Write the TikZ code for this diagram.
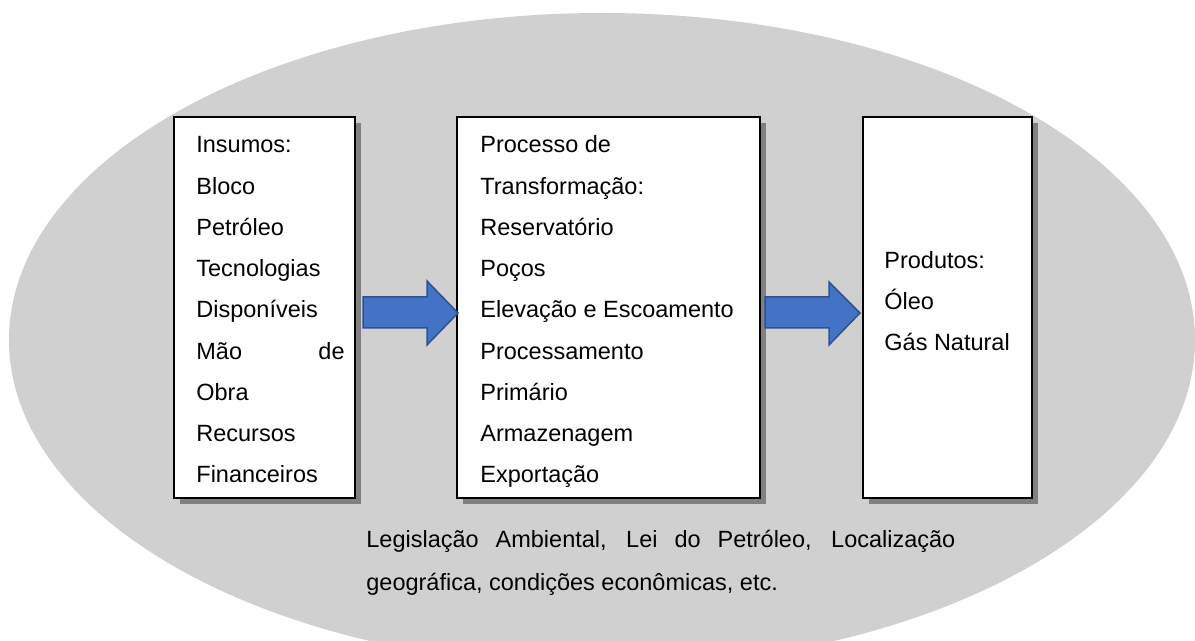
\documentclass[tikz,border=0pt]{standalone}
\usepackage{fontspec}
\setmainfont{Liberation Sans}
\usetikzlibrary{shadows}
\definecolor{ellgray}{HTML}{D0D0D0}
\definecolor{shadowgray}{HTML}{808080}
\definecolor{arrowfill}{HTML}{4472C4}
\definecolor{arrowline}{HTML}{2F528F}
\begin{document}
\begin{tikzpicture}[x=0.5pt,y=-0.5pt,
  box/.style={draw=black, line width=1pt, fill=white, minimum height=190.5pt, inner sep=0pt,
    drop shadow={shadow xshift=3pt, shadow yshift=-3pt, fill=shadowgray, opacity=1}},
  txt/.style={inner sep=0pt, font=\fontsize{11.75}{14}\selectfont},
  blockarrow/.style={fill=arrowfill, draw=arrowline, line width=0.75pt, line join=miter}]
\useasboundingbox (0,0) rectangle (1195,641);
% background ellipse
\fill[ellgray] (602,340) ellipse [x radius=593, y radius=327];
% boxes
\node[box, minimum width=90.5pt] (b1) at (264.5,307.5) {};
\node[box, minimum width=151.5pt] (b2) at (608.5,307.5) {};
\node[box, minimum width=84.5pt] (b3) at (947.5,307.5) {};
% block arrows
\draw[blockarrow] (363,297) -- (427,297) -- (427,281) -- (458,313) -- (427,345) -- (427,328) -- (363,328) -- cycle;
\draw[blockarrow] (765,297) -- (829,297) -- (829,282) -- (860,313) -- (829,345) -- (829,328) -- (765,328) -- cycle;
% box 1 text
\foreach \t [count=\i from 0] in {Insumos:,Bloco,Petróleo,Tecnologias,Disponíveis,Mão,Obra,Recursos,Financeiros}
  \node[txt, anchor=base west] (a\i) at (196,153+41.25*\i) {\t};
\node[txt, anchor=base east] (ade) at (345,153+41.25*5) {de};
% box 2 text
\foreach \t [count=\i from 0] in {Processo de,Transformação:,Reservatório,Poços,Elevação e Escoamento,Processamento,Primário,Armazenagem,Exportação}
  \node[txt, anchor=base west] (p\i) at (480,153+41.25*\i) {\t};
% box 3 text
\foreach \t [count=\i from 0] in {Produtos:,Óleo,Gás Natural}
  \node[txt, anchor=base west] (o\i) at (884,269+41*\i) {\t};
% bottom text (first line justified)
\node[txt, anchor=base west] (l1) at (366,548) {\makebox[294.5pt][s]{Legislação Ambiental, Lei do Petróleo, Localização}};
\node[txt, anchor=base west] (l2) at (366,590) {geográfica, condições econômicas, etc.};
\end{tikzpicture}
\end{document}
